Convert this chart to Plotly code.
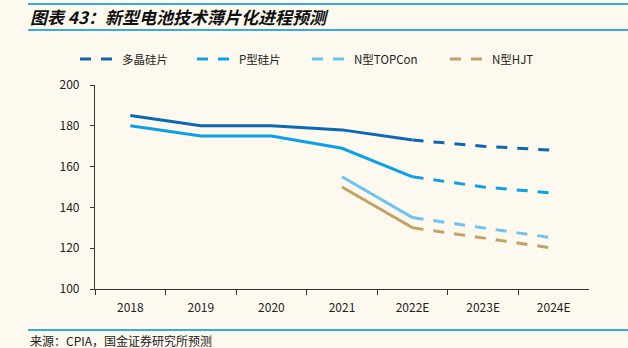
import plotly.graph_objects as go

# Wafer thickness by year (μm); 2022E onward are forecasts
years = ["2018", "2019", "2020", "2021", "2022E", "2023E", "2024E"]
poly_si = [185, 180, 180, 178, 173, 170, 168]
p_type = [180, 175, 175, 169, 155, 150, 147]
n_topcon = [None, None, None, 155, 135, 130, 125]
n_hjt = [None, None, None, 150, 130, 125, 120]

series_names = ["多晶硅片", "P型硅片", "N型TOPCon", "N型HJT"]
series_values = [poly_si, p_type, n_topcon, n_hjt]
colors = ["#0B69B3", "#0BA0E8", "#6DC4F2", "#C3A163"]

W, H = 628, 348
BG = "#FEF9EF"
FONT = "Noto Sans CJK SC"
split = years.index("2022E")


def px_x(p):
    return p / W


def px_y(p):
    return 1 - p / H


# one legend per series so each entry sits at its own spot
legend_left = [75, 192, 307, 445]
legend_ids = ["legend", "legend2", "legend3", "legend4"]

fig = go.Figure()
for name, vals, col, lid in zip(series_names, series_values, colors, legend_ids):
    # actual segment: solid
    fig.add_trace(go.Scatter(
        x=years[:split + 1], y=vals[:split + 1], mode="lines",
        line=dict(color=col, width=3), showlegend=False, hoverinfo="skip"))
    # forecast segment: dashed
    fig.add_trace(go.Scatter(
        x=years[split:], y=vals[split:], mode="lines", name=name, legend=lid,
        line=dict(color=col, width=3, dash="11px,10px")))

legend_style = dict(
    orientation="h", yanchor="middle", xanchor="left",
    font=dict(family=FONT, size=11.5, color="#222222"),
    bgcolor="rgba(0,0,0,0)", itemwidth=37,
)
layout_legends = {
    lid: dict(x=px_x(xl), y=px_y(59), **legend_style)
    for lid, xl in zip(legend_ids, legend_left)
}

fig.update_layout(
    width=W, height=H,
    margin=dict(l=0, r=0, t=0, b=0, autoexpand=False),
    paper_bgcolor=BG, plot_bgcolor=BG,
    font=dict(family=FONT, size=12, color="#222222"),
    xaxis=dict(
        domain=[px_x(95), px_x(589)], type="category",
        range=[-0.5, 6.5], tickson="boundaries",
        ticks="outside", ticklen=5, tickcolor="#333333",
        showline=True, linecolor="#333333", linewidth=1.2,
        showgrid=False, zeroline=False, ticklabelstandoff=7,
        tickfont=dict(size=12, color="#222222"),
    ),
    yaxis=dict(
        domain=[px_y(289), px_y(85)], range=[100, 200],
        tick0=100, dtick=20, ticks="outside", ticklen=4, tickcolor="#333333",
        showline=True, linecolor="#333333", linewidth=1.2,
        showgrid=False, zeroline=False, ticklabelstandoff=8,
        tickfont=dict(size=12, color="#222222"),
    ),
    showlegend=True,
    **layout_legends,
)

# rules framing the title and the source note
for y in (4, 30, 330):
    fig.add_shape(type="line", xref="paper", yref="paper",
                  x0=px_x(28), x1=1, y0=px_y(y), y1=px_y(y),
                  line=dict(color="#3AA8E6", width=2))

fig.add_annotation(
    text="<b><i>图表 43：新型电池技术薄片化进程预测</i></b>",
    xref="paper", yref="paper", x=px_x(28), y=px_y(17),
    xanchor="left", yanchor="middle", showarrow=False,
    font=dict(family=FONT, size=17, color="#111111"))

fig.add_annotation(
    text="来源：CPIA，国金证券研究所预测",
    xref="paper", yref="paper", x=px_x(28), y=px_y(340),
    xanchor="left", yanchor="middle", showarrow=False,
    font=dict(family=FONT, size=12, color="#222222"))

fig.write_html("out.html")
